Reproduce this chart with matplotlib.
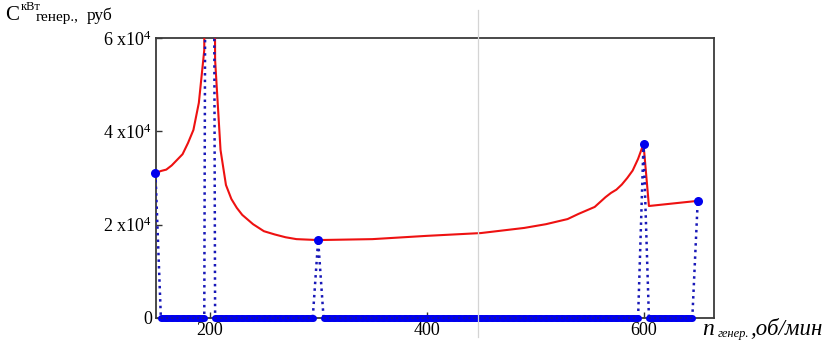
"""Generator cost per kW against generator speed (Mathcad-style chart)."""

import numpy as np
import matplotlib
matplotlib.use("Agg")
import matplotlib.pyplot as plt
from matplotlib.lines import Line2D
from matplotlib.ticker import FixedLocator

plt.rcParams['font.family'] = ['Liberation Serif', 'DejaVu Serif']
plt.rcParams['mathtext.fontset'] = 'custom'
plt.rcParams['mathtext.rm'] = 'Liberation Serif'
plt.rcParams['mathtext.it'] = 'Liberation Serif:italic'

# cost curve: speed (rpm) -> cost (rub per kW)
n_curve = [150, 155, 160, 165, 170, 175, 180, 185, 190, 195, 200, 205, 210,
           215, 220, 225, 230, 240, 250, 260, 270, 280, 290, 300, 350, 400,
           450, 490, 510, 530, 540, 555, 565, 570, 575, 580, 585, 590, 595,
           600, 605, 650]
c_curve = [31000, 31500, 31800, 32700, 33900, 35100, 37500, 40300, 46100,
           57400, 400000, 55300, 36000, 28500, 25500, 23600, 22100, 20100,
           18600, 17900, 17300, 16900, 16800, 16700, 16900, 17600, 18200,
           19300, 20100, 21200, 22300, 23800, 25900, 26800, 27500, 28600,
           30000, 31600, 34100, 37300, 24000, 25100]

# speeds where the standard generators sit (blue spikes)
spike_n = [150, 200, 300, 600, 650]
grid_step = 5

x_ticks = [200, 400, 600]
y_ticks = [0, 20000, 40000, 60000]
y_ticklabels = ['0', r'2 x10$^4$', r'4 x10$^4$', r'6 x10$^4$']

W, H = 830, 349


def fx(px):
    return px / W


def fy(py):
    return 1 - py / H


n_grid = np.arange(n_curve[0], n_curve[-1] + 1, grid_step)
blue = np.zeros(len(n_grid))
for n in spike_n:
    blue[n_grid == n] = c_curve[n_curve.index(n)]
base = np.where(blue == 0, 0.0, np.nan)
spike_c = [c_curve[n_curve.index(n)] for n in spike_n]

fig = plt.figure(figsize=(W / 100, H / 100), dpi=100)
ax = fig.add_axes([fx(156), fy(318), fx(714) - fx(156), fy(38) - fy(318)])

ax.plot(n_curve, c_curve, color='#ee1111', lw=1.5, zorder=3)
ax.plot(n_grid, blue, ':', color='#1818b8', lw=1.8, zorder=4)
# the zero samples merge into one thick band
ax.plot(n_grid, base, color='#0000ee', lw=5, solid_capstyle='butt',
        zorder=4, clip_on=False)
ax.plot(n_grid, blue, 'o', color='#0000ee', ms=5, mec='none', zorder=5,
        clip_on=False)
ax.plot(n_grid, base, ':', color='#1414a0', lw=1.4, zorder=5, clip_on=False)
ax.plot(spike_n, spike_c, 'o', color='#0000ee', ms=6.5, mec='none', zorder=6,
        clip_on=False)

ax.set_xlim(150.5, 665)
ax.set_ylim(0, 60000)

ax.xaxis.set_major_locator(FixedLocator(x_ticks))
ax.yaxis.set_major_locator(FixedLocator(y_ticks))
ax.set_yticklabels(y_ticklabels)
ax.tick_params(direction='in', length=4, width=1, color='#333333',
               labelsize=13, pad=3)
for s in ax.spines.values():
    s.set_color('#3a3a3a')
    s.set_linewidth(1.3)

# light grey cursor line running through the whole picture
fig.add_artist(Line2D([fx(478), fx(478)], [fy(337), fy(10)],
                      color='#d4d4d4', lw=0.9, zorder=10))

# y axis label at the top left
fig.text(fx(5), fy(20), 'C', fontsize=15, va='baseline')
fig.text(fx(21), fy(9.5), 'кВт', fontsize=9, va='baseline')
fig.text(fx(36), fy(21), 'генер.,', fontsize=11, va='baseline')
fig.text(fx(87), fy(20.5), 'руб', fontsize=12.5, va='baseline')

# x axis label at the bottom right
fig.text(fx(702), fy(335), 'n', fontsize=17, style='italic', va='baseline')
fig.text(fx(718), fy(337), 'генер.', fontsize=9, style='italic',
         va='baseline')
fig.text(fx(750), fy(335), ',об/мин', fontsize=16.5, style='italic',
         va='baseline')

fig.savefig('out.png', dpi=100)
